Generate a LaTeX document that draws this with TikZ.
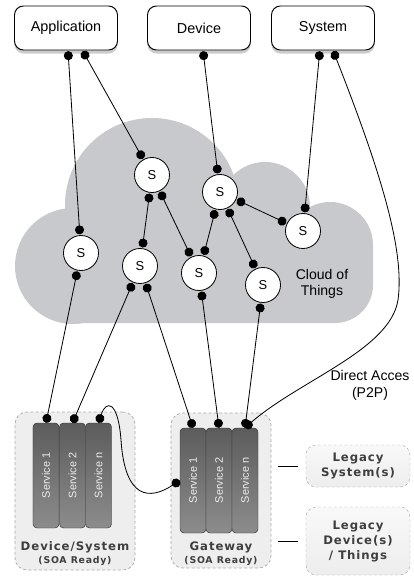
\documentclass[tikz,border=0pt]{standalone}
\usepackage{fontspec}
\usepackage{graphicx}
\setmainfont{Liberation Sans}
\newfontfamily\lblfont[LetterSpace=8]{DejaVu Sans}
\usetikzlibrary{arrows.meta, shadows}

\definecolor{cloudgray}{RGB}{200,201,204}
\definecolor{svctop}{RGB}{92,92,92}
\definecolor{svcbot}{RGB}{140,140,140}
\definecolor{boxfill}{RGB}{238,238,238}
\definecolor{boxline}{RGB}{170,170,170}
\definecolor{lbltext}{RGB}{62,62,62}

\begin{document}
\begin{tikzpicture}[
    x=0.03cm, y=0.03cm,
    every node/.style={font=\fontsize{12.3}{14}\selectfont},
    endpoint/.style={
        rectangle, draw, line width=0.8pt, rounded corners=0.27cm, fill=white,
        minimum width=3.09cm, minimum height=1.32cm, outer sep=1pt,
        drop shadow={shadow xshift=0pt, shadow yshift=-3pt, opacity=0.4}
    },
    service/.style={
        circle, draw, line width=0.7pt, fill=white, minimum size=1.05cm,
        inner sep=0pt, outer sep=1pt, font=\fontsize{11}{13}\selectfont
    },
    svcbar/.style={
        rectangle, draw=black!80, rounded corners=0.12cm,
        top color=svctop, bottom color=svcbot,
        minimum width=0.78cm, minimum height=3.15cm, inner sep=0pt,
        text=gray!15, font=\fontsize{9.3}{11}\selectfont
    },
    container/.style={
        rectangle, draw=boxline, dash pattern=on 2.5pt off 2pt,
        rounded corners=0.36cm, fill=boxfill, line width=0.6pt
    },
    legacy/.style={
        rectangle, draw=boxline, dash pattern=on 2.5pt off 2pt,
        rounded corners=0.3cm, top color=gray!5, bottom color=gray!14,
        minimum width=3.12cm, align=center, text=lbltext,
        font=\lblfont\bfseries\fontsize{10}{12.8}\selectfont
    },
    boxname/.style={anchor=base, text=lbltext, font=\lblfont\bfseries\fontsize{10}{12}\selectfont},
    soatag/.style={anchor=base, text=lbltext, font=\lblfont\bfseries\fontsize{8}{10}\selectfont},
    link/.style={{Circle[length=0.27cm]}-{Circle[length=0.27cm]}, line width=0.7pt},
    plain/.style={line width=0.7pt}
]
\useasboundingbox (0,0) rectangle (414,-576);

% --- Cloud of Things ---
\fill[cloudgray] (152,-205) circle[radius=87];
\fill[cloudgray] (265,-207) circle[radius=45];
\fill[cloudgray] (330,-245) circle[radius=43];
\fill[cloudgray] (73,-266) circle[radius=58];
\fill[cloudgray] (65,-215) -- (330,-215) -- (373,-245) -- (373,-285)
    arc[start angle=0, end angle=-90, radius=38] -- (65,-323) -- cycle;
\node[align=center, font=\fontsize{12}{14.2}\selectfont] (cloudlbl) at (322,-284) {Cloud of\\Things};

% --- Containers ---
\node[container, minimum width=3.6cm, minimum height=4.74cm] (devbox) at (75,-491) {};
\node[container, minimum width=3.0cm, minimum height=4.65cm] (gwbox) at (221,-490.5) {};

% Device/System services
\node[svcbar] (ds1) at (46,-475.5) {\rotatebox{90}{Service 1}};
\node[svcbar] (ds2) at (72.5,-475.5) {\rotatebox{90}{Service 2}};
\node[svcbar] (dsn) at (98.5,-475.5) {\rotatebox{90}{Service n}};
\node[boxname] (devname) at (75,-550) {Device/System};
\node[soatag] (devsoa) at (75,-563.5) {(SOA Ready)};

% Gateway services
\node[svcbar] (gs1) at (193,-480.5) {\rotatebox{90}{Service 1}};
\node[svcbar] (gs2) at (219,-480.5) {\rotatebox{90}{Service 2}};
\node[svcbar] (gsn) at (245,-480.5) {\rotatebox{90}{Service n}};
\node[boxname] (gwname) at (221,-550) {Gateway};
\node[soatag] (gwsoa) at (221,-563.5) {(SOA Ready)};

% Legacy
\node[legacy, minimum height=1.26cm] (legsys) at (358,-466) {Legacy\\System(s)};
\node[legacy, minimum height=2.04cm] (legdev) at (358,-541) {Legacy\\Device(s)\\/ Things};

% --- Services in the cloud ---
\node[service] (sa) at (152,-175) {S};
\node[service] (sb) at (220,-192) {S};
\node[service] (sc) at (303,-231) {S};
\node[service] (sd) at (81,-253) {S};
\node[service] (se) at (140,-266) {S};
\node[service] (sf) at (199,-273) {S};
\node[service] (sg) at (263,-285) {S};

% --- Top boxes ---
\node[endpoint] (app) at (66,-28) {Application};
\node[endpoint] (dev) at (199,-28) {Device};
\node[endpoint] (sys) at (323,-28) {System};

\node[align=center, font=\fontsize{12}{14.5}\selectfont] (p2p) at (370,-385) {Direct Acces\\(P2P)};

% --- Links ---
\draw[link] (app.-85) -- (sd);
\draw[link] (app.-54) -- (sa);
\draw[link] (dev.-80) -- (sb);
\draw[link] (sys.-98) -- (sc);
\draw[link] (sa) -- (se);
\draw[link] (sa) -- (sf);
\draw[link] (sb) -- (sf);
\draw[link] (sb) -- (sg);
\draw[link] (sb) -- (sc);
\draw[link] (sd) -- (ds1.north);
\draw[link] (se) -- (ds2.north);
\draw[link] (se) -- (gs1.north);
\draw[link] (sf) -- (gs2.north);
\draw[link] (sg) -- (gsn.north);

% device service n to gateway
\draw[link] (dsn.north) .. controls (106,-400) and (118,-400) .. (121,-440)
    .. controls (125,-500) and (150,-500) .. (gs1.west);

% direct access from system
\draw[link] (sys.-66) .. controls (380,-170) and (405,-250) .. (398,-300)
    .. controls (390,-350) and (300,-380) .. (gsn.north);

% gateway to legacy
\draw[plain, shorten <=0.21cm, shorten >=0.24cm] (gwbox.east |- legsys.west) -- (legsys.west);
\draw[plain, shorten <=0.21cm, shorten >=0.24cm] (gwbox.east |- legdev.west) -- (legdev.west);

\end{tikzpicture}
\end{document}
